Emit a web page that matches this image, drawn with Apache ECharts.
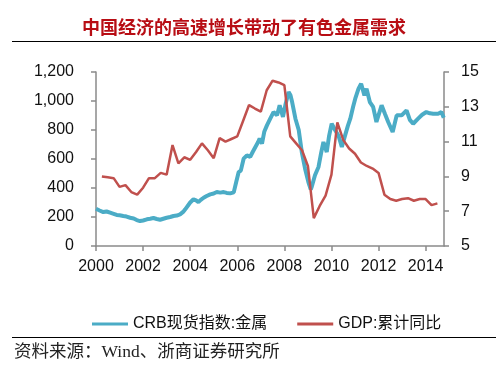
<!DOCTYPE html>
<html>
<head>
<meta charset="utf-8">
<script src="https://cdn.jsdelivr.net/npm/echarts@6/dist/echarts.min.js"></script>
<style>
  html, body { margin: 0; padding: 0; background: #fff; }
  #chart { width: 496px; height: 376px; }
</style>
</head>
<body>
<div id="chart"></div>
<script>
// CRB spot index: metals (left axis), [decimal year, value]
var crbMetals = [
  [2000.0, 257], [2000.15, 245], [2000.31, 234], [2000.45, 238], [2000.6, 230],
  [2000.75, 222], [2000.88, 214], [2001.0, 212], [2001.16, 207], [2001.3, 203],
  [2001.45, 195], [2001.6, 190], [2001.73, 179], [2001.87, 172], [2002.0, 176],
  [2002.16, 184], [2002.3, 188], [2002.44, 193], [2002.58, 186], [2002.72, 181],
  [2002.86, 188], [2003.0, 195], [2003.15, 200], [2003.29, 207], [2003.43, 210],
  [2003.57, 218], [2003.7, 235], [2003.79, 253], [2003.86, 264], [2004.0, 300],
  [2004.14, 322], [2004.25, 315], [2004.35, 303], [2004.45, 318], [2004.57, 333],
  [2004.7, 345], [2004.85, 356], [2005.0, 362], [2005.13, 372], [2005.28, 368],
  [2005.42, 372], [2005.55, 366], [2005.7, 363], [2005.85, 370], [2005.9, 378],
  [2005.96, 445], [2006.06, 510], [2006.15, 520], [2006.27, 602], [2006.41, 625],
  [2006.55, 614], [2006.66, 650], [2006.77, 683], [2006.88, 715], [2006.95, 740],
  [2007.05, 706], [2007.15, 790], [2007.26, 832], [2007.4, 878], [2007.54, 924],
  [2007.69, 901], [2007.8, 970], [2007.94, 890], [2008.04, 970], [2008.18, 1062],
  [2008.26, 1040], [2008.33, 993], [2008.47, 878], [2008.61, 800], [2008.74, 648],
  [2008.88, 533], [2009.02, 441], [2009.12, 390], [2009.16, 407], [2009.3, 488],
  [2009.45, 545], [2009.56, 640], [2009.66, 717], [2009.8, 648], [2009.9, 760],
  [2010.01, 843], [2010.16, 798], [2010.3, 760], [2010.44, 683], [2010.58, 763],
  [2010.7, 830], [2010.8, 878], [2010.92, 960], [2011.01, 1016], [2011.15, 1085],
  [2011.26, 1119], [2011.4, 1039], [2011.49, 1085], [2011.63, 993], [2011.77, 959],
  [2011.91, 855], [2012.13, 970], [2012.27, 912], [2012.41, 855], [2012.6, 786],
  [2012.77, 901], [2012.98, 901], [2013.19, 936], [2013.33, 870], [2013.47, 843],
  [2013.68, 878], [2013.85, 905], [2014.03, 924], [2014.18, 915], [2014.32, 912],
  [2014.53, 912], [2014.67, 924], [2014.77, 885]
];

// GDP cumulative YoY (right axis), quarterly from 2000Q1
var gdpStart = 2000.25;
var gdpYoY = [
  9.0, 8.95, 8.9, 8.4,
  8.5, 8.1, 7.95, 8.35,
  8.9, 8.9, 9.2, 9.1,
  10.8, 9.75, 10.1, 9.95,
  10.4, 10.9, 10.5, 10.05,
  11.2, 11.0, 11.15, 11.3,
  12.2, 13.1, 12.9, 12.72,
  13.95, 14.5, 14.4, 14.24,
  11.3, 10.9, 10.5, 9.6,
  6.6, 7.3, 7.9, 9.1,
  12.1, 11.1, 10.6, 10.3,
  9.8, 9.6, 9.45, 9.2,
  7.95, 7.7, 7.6, 7.7,
  7.75, 7.6, 7.7, 7.7,
  7.35, 7.45
];

var seriesNames = ['CRB现货指数:金属', 'GDP:累计同比'];
var titleText = '中国经济的高速增长带动了有色金属需求';
var sourceText = '资料来源：Wind、浙商证券研究所';

var gdpData = gdpYoY.map(function(v, i) {
  return [gdpStart + i * 0.25, v];
});

var chart = echarts.init(document.getElementById('chart'));
var axisGray = '#8a8a8a';
var labelFont = {
  color: '#111',
  fontFamily: 'Liberation Sans, Arial, sans-serif',
  fontSize: 16
};

chart.setOption({
  animation: false,
  color: ['#4bacc6', '#c0504d'],

  title: {
    text: titleText,
    left: 77,
    top: 13,
    textStyle: {
      color: '#b80d14',
      fontSize: 18,
      fontWeight: 'bold',
      fontFamily: 'Noto Sans CJK SC, sans-serif'
    }
  },

  grid: {
    left: 96,
    right: 52,
    top: 72,
    bottom: 130,
    containLabel: false,
    outerBoundsMode: 'none'
  },

  legend: {
    data: seriesNames,
    left: 87,
    top: 311,
    icon: 'rect',
    itemWidth: 36,
    itemHeight: 3,
    itemGap: 30,
    textStyle: {
      color: '#111',
      fontSize: 16,
      fontFamily: 'Liberation Sans, Noto Sans CJK SC, sans-serif'
    }
  },

  xAxis: {
    type: 'value',
    min: 2000,
    max: 2014.78,
    interval: 2,
    axisLine: { lineStyle: { color: axisGray, width: 1.5 } },
    axisTick: { length: 5, lineStyle: { color: axisGray, width: 1.5 } },
    axisLabel: Object.assign({
      margin: 13,
      showMaxLabel: false,
      formatter: function(v) { return String(v); }
    }, labelFont),
    splitLine: { show: false }
  },

  yAxis: [{
    type: 'value',
    min: 0,
    max: 1200,
    interval: 200,
    axisLine: { show: true, lineStyle: { color: axisGray, width: 1.5 } },
    axisTick: { show: true, length: 5, lineStyle: { color: axisGray, width: 1.5 } },
    axisLabel: Object.assign({
      margin: 22,
      formatter: function(v) { return v.toLocaleString('en-US'); }
    }, labelFont),
    splitLine: { show: false }
  }, {
    type: 'value',
    position: 'right',
    min: 5,
    max: 15,
    interval: 2,
    axisLine: { show: true, lineStyle: { color: axisGray, width: 1.5 } },
    axisTick: { show: true, length: 5, lineStyle: { color: axisGray, width: 1.5 } },
    axisLabel: Object.assign({ margin: 17 }, labelFont),
    splitLine: { show: false }
  }],

  graphic: [{
    type: 'line',
    shape: { x1: 12, y1: 41.5, x2: 496, y2: 41.5 },
    style: { stroke: '#000', lineWidth: 1 }
  }, {
    type: 'line',
    shape: { x1: 12, y1: 337.5, x2: 496, y2: 337.5 },
    style: { stroke: '#000', lineWidth: 1 }
  }, {
    type: 'text',
    left: 14,
    top: 344,
    style: {
      text: sourceText,
      fill: '#222',
      fontSize: 17.5,
      fontFamily: 'Liberation Serif, Noto Sans CJK SC, serif'
    }
  }],

  series: [{
    name: seriesNames[0],
    type: 'line',
    yAxisIndex: 0,
    data: crbMetals,
    symbol: 'none',
    lineStyle: { width: 4 }
  }, {
    name: seriesNames[1],
    type: 'line',
    yAxisIndex: 1,
    data: gdpData,
    symbol: 'none',
    lineStyle: { width: 2.5 }
  }]
});
</script>
</body>
</html>
